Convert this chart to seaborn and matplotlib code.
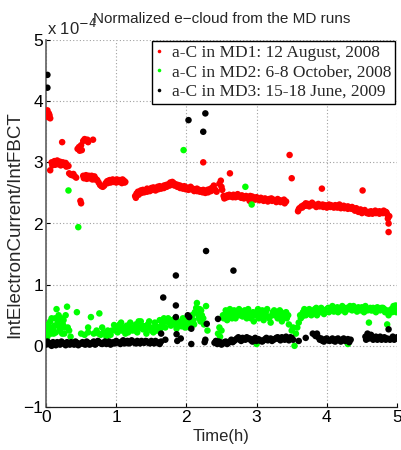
import matplotlib
matplotlib.use("Agg")
import matplotlib.pyplot as plt
import seaborn as sns
import pandas as pd

# ---------------- data (values in units of 1e-4) ----------------
labels = ["a-C in MD1: 12 August, 2008",
          "a-C in MD2: 6-8 October, 2008",
          "a-C in MD3: 15-18 June, 2009"]
colors = ["#ff0000", "#00ff00", "#000000"]

md1_t = [0.00, 0.01, 0.02, 0.03, 0.04, 0.05, 0.06, 0.06,
         0.08, 0.10, 0.12, 0.14, 0.16, 0.18, 0.20, 0.22, 0.24, 0.26, 0.28, 0.30, 0.32,
         0.23, 0.33, 0.35, 0.37, 0.39, 0.41, 0.43, 0.49, 0.50,
         0.45, 0.47, 0.48, 0.50, 0.51, 0.53, 0.55, 0.57, 0.59, 0.60, 0.67,
         0.53, 0.55, 0.57, 0.59, 0.61, 0.63, 0.65, 0.67, 0.69, 0.71, 0.73,
         0.75, 0.77, 0.79, 0.81, 0.83, 0.85,
         0.87, 0.89, 0.91, 0.93, 0.95, 0.97, 0.99, 1.01, 1.03, 1.05, 1.07, 1.09, 1.11, 1.13,
         1.27, 1.29, 1.31, 1.33, 1.35, 1.38, 1.41, 1.44, 1.47, 1.50, 1.53, 1.56, 1.59, 1.62,
         1.65, 1.68, 1.71, 1.74, 1.77, 1.80, 1.82, 1.85, 1.88, 1.91, 1.94, 1.97, 2.00, 2.03,
         2.06, 2.09, 2.12, 2.15, 2.18, 2.21, 2.24, 2.27, 2.30, 2.33, 2.36, 2.39, 2.41, 2.43,
         2.47, 2.49, 2.50, 2.51, 2.24,
         2.53, 2.55, 2.58, 2.61, 2.64, 2.67, 2.70, 2.73, 2.76, 2.79, 2.82, 2.85, 2.88, 2.90,
         2.91, 2.94, 2.97, 3.00, 3.03, 3.06, 3.09, 3.12, 3.15, 3.18, 3.21, 3.24, 3.27, 3.30,
         3.33, 3.36, 3.39, 3.42,
         2.62, 3.47, 3.50, 3.93, 4.51,
         3.59, 3.61, 3.64, 3.67, 3.70, 3.73, 3.76, 3.79, 3.82, 3.85, 3.88, 3.91, 3.94, 3.97,
         4.00, 4.03, 4.06, 4.09, 4.12, 4.15, 4.18, 4.21, 4.24, 4.27, 4.30, 4.33, 4.36, 4.39,
         4.42, 4.45, 4.48, 4.51, 4.54, 4.57, 4.60, 4.63, 4.66, 4.69, 4.72, 4.75, 4.78, 4.81,
         4.84, 4.86, 4.87, 4.88, 4.89, 4.88]
md1_v = [3.82, 3.78, 3.85, 3.74, 3.80, 3.77, 3.72, 2.87,
         3.00, 2.98, 3.02, 3.00, 3.03, 2.99, 3.01, 2.98, 3.00, 2.97, 2.99, 2.96, 2.94,
         3.33, 2.82, 2.80, 2.79, 2.81, 2.77, 2.75, 2.37, 2.33,
         3.22, 3.25, 3.19, 3.28, 3.20, 3.35, 3.38, 3.36, 3.37, 3.33, 3.37,
         2.78, 2.76, 2.79, 2.77, 2.78, 2.76, 2.78, 2.75, 2.77, 2.73, 2.71,
         2.67, 2.63, 2.61, 2.60, 2.62, 2.66,
         2.69, 2.70, 2.71, 2.69, 2.72, 2.70, 2.71, 2.72, 2.70, 2.71, 2.69, 2.72, 2.70, 2.68,
         2.45, 2.49, 2.52, 2.50, 2.54, 2.55, 2.53, 2.57, 2.56, 2.58, 2.59, 2.57, 2.60, 2.61,
         2.59, 2.62, 2.63, 2.64, 2.67, 2.68, 2.66, 2.64, 2.63, 2.62, 2.60, 2.61, 2.59, 2.58,
         2.60, 2.57, 2.56, 2.57, 2.55, 2.54, 2.55, 2.53, 2.55, 2.56, 2.58, 2.62, 2.55, 2.52,
         2.65, 2.70, 2.60, 2.55, 3.00,
         2.45, 2.42, 2.46, 2.47, 2.45, 2.47, 2.46, 2.48, 2.45, 2.46, 2.44, 2.45, 2.43, 2.37,
         2.45, 2.44, 2.42, 2.43, 2.41, 2.42, 2.40, 2.41, 2.39, 2.40, 2.41, 2.39, 2.38, 2.40,
         2.38, 2.37, 2.39, 2.36,
         2.82, 3.12, 2.74, 2.57, 2.54,
         2.20, 2.25, 2.28, 2.30, 2.29, 2.32, 2.31, 2.34, 2.31, 2.30, 2.32, 2.29, 2.31, 2.30,
         2.29, 2.31, 2.30, 2.28, 2.30, 2.29, 2.31, 2.28, 2.29, 2.27, 2.28, 2.26, 2.27, 2.24,
         2.25, 2.22, 2.23, 2.20, 2.22, 2.17, 2.19, 2.20, 2.18, 2.21, 2.19, 2.20, 2.18, 2.21,
         2.19, 2.15, 2.08, 2.00, 2.12, 1.86]
# lower edge of the MD1 band
md1_t_low = [0.09, 0.13, 0.17, 0.21, 0.25, 0.29,
             0.54, 0.58, 0.62, 0.66, 0.70,
             0.88, 0.92, 0.96, 1.00, 1.04, 1.08, 1.12,
             1.28, 1.32, 1.36, 1.40, 1.44, 1.48, 1.52, 1.56, 1.60, 1.64, 1.68, 1.72, 1.76,
             1.79, 1.83, 1.87, 1.91, 1.95, 1.99, 2.03, 2.07, 2.11, 2.15, 2.19, 2.23, 2.27,
             2.31, 2.35, 2.39,
             2.54, 2.58, 2.62, 2.66, 2.70, 2.74, 2.78, 2.82, 2.86, 2.92, 2.98, 3.04, 3.10,
             3.16, 3.22, 3.28, 3.34, 3.40,
             3.60, 3.65, 3.70, 3.75, 3.80, 3.85, 3.90, 3.95, 4.00, 4.05, 4.10, 4.15, 4.20,
             4.25, 4.30, 4.35, 4.40, 4.45, 4.50, 4.55, 4.60, 4.65, 4.70, 4.75, 4.80, 4.85]
md1_v_low = [2.95, 2.96, 2.97, 2.95, 2.96, 2.93,
             2.74, 2.73, 2.74, 2.72, 2.72,
             2.66, 2.67, 2.68, 2.67, 2.68, 2.66, 2.67,
             2.42, 2.47, 2.50, 2.51, 2.52, 2.53, 2.55, 2.54, 2.56, 2.57, 2.58, 2.60, 2.62,
             2.64, 2.62, 2.60, 2.58, 2.57, 2.56, 2.55, 2.56, 2.53, 2.53, 2.52, 2.51, 2.50,
             2.51, 2.53, 2.55,
             2.41, 2.43, 2.44, 2.43, 2.43, 2.44, 2.42, 2.41, 2.42, 2.41, 2.39, 2.38, 2.37,
             2.36, 2.37, 2.35, 2.35, 2.33,
             2.23, 2.26, 2.33, 2.28, 2.30, 2.27, 2.28, 2.27, 2.26, 2.27, 2.26, 2.26, 2.25,
             2.25, 2.24, 2.24, 2.21, 2.19, 2.17, 2.19, 2.16, 2.16, 2.17, 2.16, 2.17, 2.18]

md2_t = [0.00, 0.02, 0.03, 0.05, 0.07, 0.08, 0.10, 0.12, 0.14, 0.15, 0.17, 0.19, 0.20, 0.22,
         0.24, 0.26, 0.28, 0.30, 0.31, 0.33, 0.35, 0.32, 0.46,
         0.44, 0.50, 0.55, 0.60, 0.64, 0.68, 0.72, 0.76, 0.78, 0.82, 0.86, 0.90, 0.94, 0.97,
         1.00, 1.02, 1.05, 1.08, 1.10, 1.13, 1.15, 1.18, 1.20, 1.23, 1.25, 1.28, 1.30, 1.33,
         1.35, 1.38, 1.40, 1.43, 1.45, 1.48, 1.50, 1.52, 1.55, 1.58, 1.60, 1.62, 1.65, 1.68,
         1.70, 1.72, 1.75, 1.78, 1.80, 1.83, 1.86, 1.88, 1.90, 1.93, 1.95, 1.98, 2.00, 2.02,
         2.05, 2.08, 2.10, 2.12, 2.15, 2.17, 2.19, 2.20, 2.22, 2.25, 2.28, 2.30,
         2.45, 2.47, 2.48, 2.50, 2.53, 2.55, 2.58, 2.60, 2.63, 2.66, 2.70, 2.73, 2.76, 2.80,
         2.83, 2.86, 2.90, 2.93, 2.96, 3.00, 3.03, 3.06, 3.10, 3.13, 3.16, 3.20, 3.23, 3.26,
         3.30, 3.33, 3.36, 3.40, 3.43, 3.46, 3.50, 3.52, 3.54, 3.56, 3.60, 3.63, 3.66, 3.70,
         3.73, 3.76, 3.80, 3.83, 3.86, 3.90, 3.93, 3.96, 4.00, 4.03, 4.06, 4.10, 4.13, 4.16,
         4.20, 4.23, 4.26, 4.30, 4.33, 4.36, 4.40, 4.43, 4.46, 4.50, 4.53, 4.56, 4.60, 4.63,
         4.66, 4.70, 4.73, 4.76, 4.80, 4.83, 4.86, 4.88, 4.90, 4.93, 4.96, 4.98, 5.00,
         1.96, 2.84, 2.93, 3.00, 4.30]
md2_v = [0.25, 0.15, 0.35, 0.30, 0.20, 0.45, 0.28, 0.33, 0.22, 0.60, 0.40, 0.30, 0.25, 0.45,
         0.35, 0.20, 0.50, 0.64, 0.30, 0.25, 0.15, 2.54, 1.94,
         0.55, 0.20, 0.18, 0.22, 0.47, 0.20, 0.25, 0.53, 0.18, 0.22, 0.15, 0.20, 0.25, 0.34,
         0.30, 0.22, 0.35, 0.25, 0.30, 0.20, 0.33, 0.28, 0.38, 0.25, 0.30, 0.35, 0.22, 0.30,
         0.40, 0.27, 0.32, 0.20, 0.35, 0.30, 0.25, 0.30, 0.38, 0.25, 0.30, 0.42, 0.35, 0.45,
         0.30, 0.40, 0.38, 0.33, 0.42, 0.35, 0.28, 0.40, 0.36, 0.32, 0.45, 0.30, 0.38, 0.45,
         0.35, 0.50, 0.42, 0.55, 0.70, 0.50, 0.60, 0.40, 0.50, 0.35, 0.65, 0.25,
         0.20, 0.30, 0.15, 0.25, 0.45, 0.50, 0.42, 0.55, 0.48, 0.52, 0.45, 0.55, 0.50, 0.48,
         0.58, 0.45, 0.52, 0.50, 0.40, 0.55, 0.45, 0.50, 0.42, 0.55, 0.48, 0.38, 0.55, 0.50,
         0.45, 0.58, 0.40, 0.52, 0.45, 0.35, 0.25, 0.30, 0.00, 0.20, 0.38, 0.45, 0.55, 0.50,
         0.58, 0.52, 0.55, 0.60, 0.50, 0.55, 0.58, 0.52, 0.60, 0.55, 0.62, 0.56, 0.60, 0.55,
         0.58, 0.62, 0.55, 0.60, 0.65, 0.58, 0.62, 0.56, 0.60, 0.63, 0.55, 0.60, 0.38, 0.58,
         0.62, 0.55, 0.60, 0.58, 0.62, 0.55, 0.35, 0.50, 0.58, 0.55, 0.60, 0.66, 0.62,
         3.20, 2.60, 2.31, 0.03, 0.03]
# further MD2 points filling the dense cloud
md2_t_more = [0.01, 0.04, 0.06, 0.09, 0.11, 0.13, 0.16, 0.18, 0.21, 0.23, 0.25, 0.27,
              0.60, 0.75, 0.80, 0.88, 0.92, 0.99, 1.04, 1.07, 1.12, 1.17, 1.22, 1.27, 1.32,
              1.37, 1.42, 1.47, 1.53, 1.57, 1.63, 1.67, 1.74, 1.79, 1.84, 1.89, 1.94, 1.99,
              2.04, 2.07, 2.11, 2.14, 2.18, 2.21, 2.24,
              2.52, 2.56, 2.59, 2.62, 2.65, 2.68, 2.72, 2.75, 2.78, 2.82, 2.85, 2.88, 2.92,
              2.95, 2.98, 3.02, 3.05, 3.08, 3.12, 3.15, 3.18, 3.22, 3.25, 3.28, 3.32, 3.35,
              3.38, 3.42, 3.45,
              3.58, 3.62, 3.65, 3.68, 3.72, 3.75, 3.78, 3.82, 3.85, 3.88, 3.92, 3.95, 3.98,
              4.02, 4.05, 4.08, 4.12, 4.15, 4.18, 4.22, 4.25, 4.28, 4.32, 4.35, 4.38, 4.42,
              4.45, 4.48, 4.52, 4.55, 4.58, 4.62, 4.65, 4.68, 4.72, 4.75, 4.78, 4.82, 4.85,
              4.92, 4.95, 4.99]
md2_v_more = [0.20, 0.22, 0.40, 0.30, 0.20, 0.45, 0.35, 0.50, 0.30, 0.20, 0.42, 0.30,
              0.30, 0.20, 0.30, 0.25, 0.18, 0.25, 0.28, 0.38, 0.28, 0.22, 0.30, 0.25, 0.40,
              0.33, 0.28, 0.40, 0.22, 0.32, 0.28, 0.38, 0.45, 0.40, 0.45, 0.33, 0.40, 0.42,
              0.30, 0.40, 0.35, 0.62, 0.45, 0.58, 0.45,
              0.50, 0.58, 0.50, 0.60, 0.45, 0.58, 0.50, 0.60, 0.55, 0.50, 0.55, 0.60, 0.45,
              0.55, 0.50, 0.60, 0.55, 0.58, 0.50, 0.60, 0.45, 0.50, 0.58, 0.55, 0.50, 0.55,
              0.45, 0.55, 0.50,
              0.30, 0.50, 0.48, 0.60, 0.52, 0.60, 0.50, 0.58, 0.62, 0.55, 0.62, 0.55, 0.58,
              0.62, 0.58, 0.65, 0.60, 0.63, 0.60, 0.65, 0.60, 0.62, 0.60, 0.63, 0.65, 0.60,
              0.63, 0.58, 0.60, 0.65, 0.58, 0.62, 0.58, 0.60, 0.63, 0.60, 0.62, 0.60, 0.58,
              0.60, 0.65, 0.55]

md3_t = [0.02, 0.02,
         0.00, 0.04, 0.08, 0.12, 0.16, 0.20, 0.24, 0.28, 0.32, 0.36, 0.40, 0.44, 0.48, 0.52,
         0.56, 0.60, 0.64, 0.68, 0.72, 0.76, 0.80, 0.84, 0.88, 0.92, 0.96, 1.00, 1.04, 1.08,
         1.12, 1.16, 1.20, 1.24, 1.28, 1.32, 1.36, 1.40, 1.44, 1.48, 1.52, 1.56, 1.60, 1.64,
         1.64, 1.67, 1.70, 1.85, 1.85, 1.86, 1.87, 2.04, 2.07, 2.07, 2.26, 2.29, 2.45, 2.27,
         2.03, 2.27, 2.24, 2.28, 1.85, 2.67, 1.92, 2.02,
         2.40, 2.44, 2.48, 2.52, 2.56, 2.60, 2.64, 2.68, 2.72, 2.76, 2.80, 2.84, 2.88, 2.92,
         2.96, 3.00, 3.04, 3.08, 3.12, 3.16, 3.20, 3.24, 3.28, 3.32, 3.36, 3.40, 3.44, 3.48,
         3.52, 3.60, 3.70, 3.80, 3.83, 3.86, 3.90, 3.94, 3.98, 4.02, 4.06, 4.10, 4.14, 4.18,
         4.22, 4.26, 4.30, 4.34, 4.55, 4.58, 4.60, 4.63, 4.66, 4.70, 4.74, 4.78, 4.82, 4.86,
         4.88, 4.90, 4.94, 4.98]
md3_v = [4.43, 4.22,
         0.02, 0.05, 0.00, 0.04, 0.06, 0.02, 0.05, 0.01, 0.04, 0.06, 0.02, 0.05, 0.03, 0.06,
         0.02, 0.05, 0.03, 0.07, 0.04, 0.06, 0.03, 0.07, 0.05, 0.02, 0.06, 0.08, 0.05, 0.07,
         0.04, 0.08, 0.05, 0.07, 0.04, 0.06, 0.08, 0.05, 0.07, 0.04, 0.06, 0.08, 0.05, 0.07,
         0.20, 0.79, 0.10, 0.66, 0.47, 0.19, 0.08, 0.47, 0.28, 0.03, 0.06, 0.36, 0.44, 0.10,
         3.69, 3.80, 3.50, 1.55, 1.15, 1.23, 0.12, 0.50,
         0.05, 0.03, 0.06, 0.04, 0.07, 0.05, 0.10, 0.08, 0.12, 0.10, 0.13, 0.10, 0.12, 0.09,
         0.11, 0.08, 0.10, 0.07, 0.11, 0.09, 0.12, 0.10, 0.13, 0.11, 0.14, 0.10, 0.12, 0.14,
         0.10, 0.08, 0.13, 0.20, 0.18, 0.20, 0.10, 0.08, 0.11, 0.09, 0.10, 0.08, 0.11, 0.09,
         0.10, 0.08, 0.11, 0.10, 0.15, 0.20, 0.12, 0.18, 0.10, 0.15, 0.12, 0.10, 0.14, 0.12,
         0.27, 0.10, 0.15, 0.12]
# further MD3 points filling the dense band
md3_t_more = [0.02, 0.06, 0.10, 0.14, 0.18, 0.22, 0.26, 0.30, 0.34, 0.38, 0.42, 0.46, 0.50,
              0.54, 0.58, 0.62, 0.66, 0.70, 0.74, 0.78, 0.82, 0.86, 0.90, 0.94, 0.98, 1.02,
              1.06, 1.10, 1.14, 1.18, 1.22, 1.26, 1.30, 1.34, 1.38, 1.42, 1.46, 1.50, 1.54,
              1.58, 1.62,
              2.42, 2.46, 2.50, 2.54, 2.58, 2.62, 2.66, 2.70, 2.74, 2.78, 2.82, 2.86, 2.90,
              2.94, 2.98, 3.02, 3.06, 3.10, 3.14, 3.18, 3.22, 3.26, 3.30, 3.34, 3.38, 3.42,
              3.46, 3.50, 3.84, 3.88, 3.92, 3.96, 4.00, 4.04, 4.08, 4.12, 4.16, 4.20, 4.24,
              4.28, 4.32, 4.56, 4.62, 4.68, 4.72, 4.76, 4.80, 4.84, 4.92, 4.96, 5.00]
md3_v_more = [0.07, 0.02, 0.06, 0.01, 0.04, 0.07, 0.03, 0.06, 0.02, 0.04, 0.07, 0.01, 0.04,
              0.03, 0.07, 0.02, 0.05, 0.02, 0.08, 0.04, 0.05, 0.03, 0.07, 0.04, 0.04, 0.06,
              0.03, 0.09, 0.06, 0.04, 0.09, 0.05, 0.08, 0.04, 0.06, 0.08, 0.05, 0.08, 0.04,
              0.06, 0.03,
              0.08, 0.07, 0.02, 0.06, 0.03, 0.07, 0.06, 0.10, 0.14, 0.08, 0.11, 0.14, 0.12,
              0.07, 0.13, 0.11, 0.08, 0.09, 0.13, 0.10, 0.08, 0.11, 0.14, 0.09, 0.12, 0.15,
              0.09, 0.13, 0.16, 0.14, 0.12, 0.07, 0.12, 0.08, 0.12, 0.07, 0.12, 0.07, 0.12,
              0.09, 0.06, 0.10, 0.15, 0.12, 0.10, 0.15, 0.12, 0.10, 0.12, 0.10, 0.14]

xticks = [0, 1, 2, 3, 4, 5]
yticks = [-1, 0, 1, 2, 3, 4, 5]
ytick_labels = ["\u22121", "0", "1", "2", "3", "4", "5"]

# ---------------- build table ----------------
df = pd.concat([
    pd.DataFrame({"t": md1_t + md1_t_low, "v": md1_v + md1_v_low, "run": labels[0]}),
    pd.DataFrame({"t": md2_t + md2_t_more, "v": md2_v + md2_v_more, "run": labels[1]}),
    pd.DataFrame({"t": md3_t + md3_t_more, "v": md3_v + md3_v_more, "run": labels[2]}),
], ignore_index=True)

sns.set_style("ticks")
plt.rcParams["font.family"] = ["Liberation Sans", "DejaVu Sans"]

fig = plt.figure(figsize=(4.02, 4.5), dpi=100)
ax = fig.add_axes([46 / 402, 43 / 450, 351 / 402, 367 / 450])

sns.scatterplot(data=df, x="t", y="v", hue="run", palette=dict(zip(labels, colors)),
                s=22, linewidth=0, edgecolor="none", ax=ax, legend=True, zorder=3)

ax.set_xlim(0, 5)
ax.set_ylim(-1, 5)
ax.set_xticks(xticks)
ax.set_yticks(yticks)
ax.set_yticklabels(ytick_labels)
tick_size = 12.5
ax.tick_params(direction="in", length=3, width=0.8, labelsize=tick_size, pad=2,
               colors="black")
ax.grid(True, linestyle=(0, (1, 2)), color="#a0a0a0", linewidth=0.8)
ax.set_axisbelow(True)
for s in ["top", "right"]:
    ax.spines[s].set_visible(False)
ax.spines["left"].set_linewidth(1.2)
ax.spines["left"].set_color("#606060")
ax.spines["bottom"].set_linewidth(0.9)
ax.spines["bottom"].set_color("#202020")

ax.set_xlabel("Time(h)", fontsize=12)
ax.xaxis.set_label_coords(0.5, -0.06)
ax.set_ylabel("IntElectronCurrent/IntFBCT", fontsize=13.5)
ax.yaxis.set_label_coords(-0.066, 0.496)
ax.set_title("Normalized e\u2212cloud from the MD runs", fontsize=11, pad=12)
fig.text(47 / 402, 1 - 35 / 450, "x 10$^{-4}$", fontsize=12, ha="left",
         va="baseline")

handles, lbls = ax.get_legend_handles_labels()
leg = ax.legend(handles, lbls, loc="upper right", bbox_to_anchor=(0.995, 0.998),
                borderaxespad=0, frameon=True, fancybox=False, framealpha=1,
                edgecolor="black", handlelength=0.3, handletextpad=0.6,
                labelspacing=0.18, borderpad=0.25, markerscale=0.55,
                prop={"family": ["Liberation Serif", "DejaVu Serif"], "size": 12.5})
leg.get_frame().set_linewidth(1.0)

fig.savefig("out.png", dpi=100)
